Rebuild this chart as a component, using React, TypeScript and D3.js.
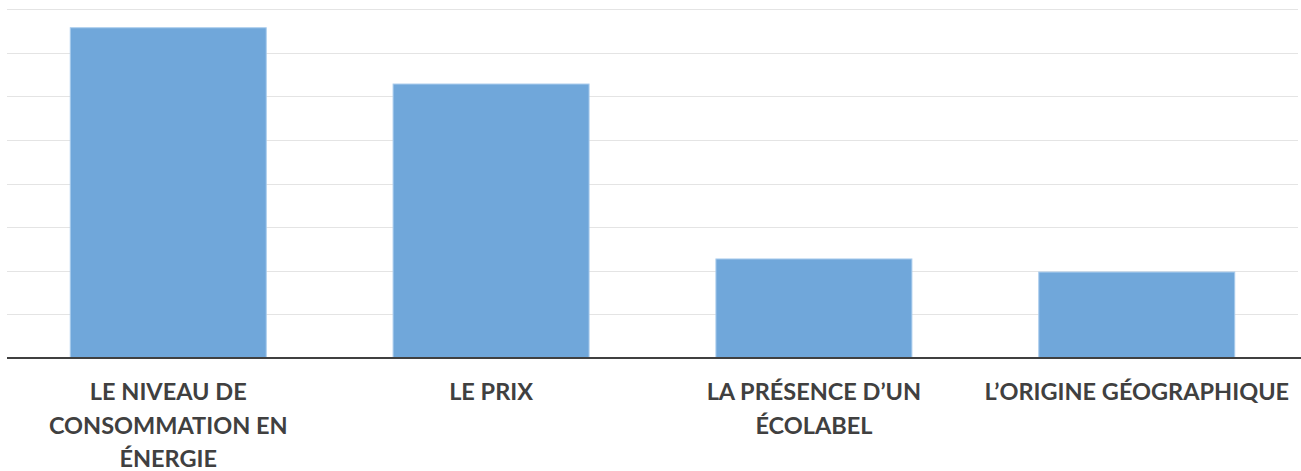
import React from "react";
import * as d3 from "d3";

const categories = ["niveau", "prix", "ecolabel", "origine"];
const values = [75.7, 62.8, 22.7, 19.7];
const labelLines = [
  ["LE NIVEAU DE", "CONSOMMATION EN", "ÉNERGIE"],
  ["LE PRIX"],
  ["LA PRÉSENCE D’UN", "ÉCOLABEL"],
  ["L’ORIGINE GÉOGRAPHIQUE"],
];
const yTicks = [0, 10, 20, 30, 40, 50, 60, 70, 80];

export default function App() {
  const W = 1301, H = 471;
  const left = 7, right = 1298, top = 9, bottom = 358;
  const x = d3.scaleBand<string>().domain(categories).range([left, right]).paddingInner(0.393).paddingOuter(0.196);
  const y = d3.scaleLinear().domain([0, 80]).range([bottom, top]);
  return (
    <svg width={W} height={H} style={{ position: "absolute", left: 0, top: 0 }}>
      <rect x={0} y={0} width={W} height={H} fill="#ffffff" />
      {yTicks.slice(1).map((t) => (
        <line key={t} x1={left} x2={right} y1={Math.round(y(t)) + 0.5} y2={Math.round(y(t)) + 0.5} stroke="#e4e4e4" strokeWidth={1.2} />
      ))}
      {categories.map((c, i) => (
        <rect key={c} x={x(c)} y={y(values[i])} width={x.bandwidth()} height={bottom - y(values[i])}
          fill="#70a7da" stroke="#a8cbec" strokeWidth={1} />
      ))}
      <line x1={left} x2={W} y1={bottom} y2={bottom} stroke="#404040" strokeWidth={2.2} />
      {categories.map((c, i) => (
        <text key={c} x={(x(c) as number) + x.bandwidth() / 2} textAnchor="middle"
          fontFamily="Lato, 'Open Sans', sans-serif" fontWeight={700} fontSize={23.5} fill="#404040">
          {labelLines[i].map((l, j) => (
            <tspan key={j} x={(x(c) as number) + x.bandwidth() / 2} y={400 + j * 33.5}>{l}</tspan>
          ))}
        </text>
      ))}
    </svg>
  );
}
